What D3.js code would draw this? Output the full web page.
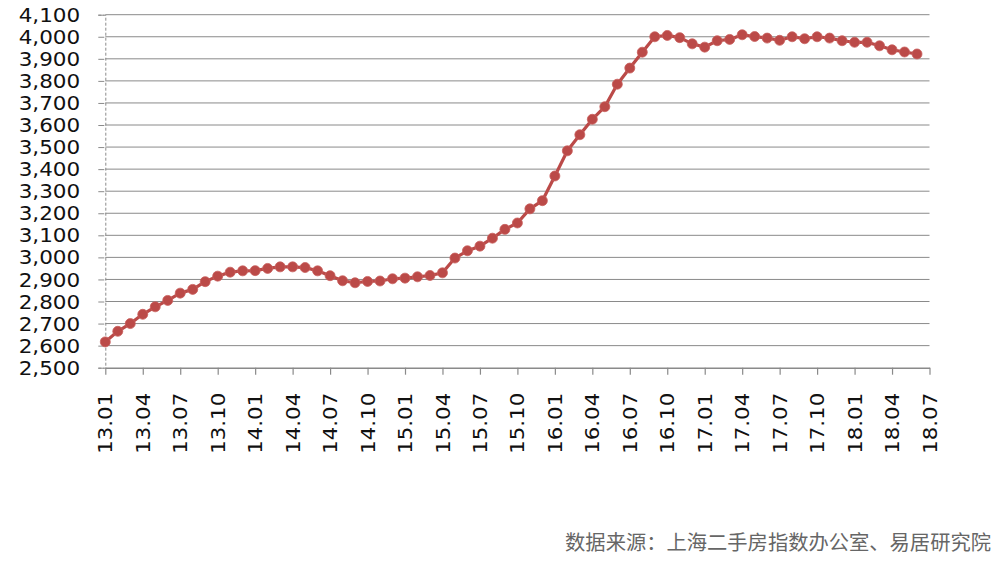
<!DOCTYPE html>
<html>
<head>
<meta charset="utf-8">
<script src="https://cdn.jsdelivr.net/npm/d3@7"></script>
<style>
    html, body { margin: 0; padding: 0; background: #fff; }
    svg { display: block; }
</style>
</head>
<body>
<svg id="chart" width="1000" height="563"></svg>
<script>
// month labels, one per category (13.01 .. 18.07)
var months = [
    '13.01', '13.02', '13.03', '13.04', '13.05', '13.06', '13.07', '13.08', '13.09', '13.10', '13.11', '13.12',
    '14.01', '14.02', '14.03', '14.04', '14.05', '14.06', '14.07', '14.08', '14.09', '14.10', '14.11', '14.12',
    '15.01', '15.02', '15.03', '15.04', '15.05', '15.06', '15.07', '15.08', '15.09', '15.10', '15.11', '15.12',
    '16.01', '16.02', '16.03', '16.04', '16.05', '16.06', '16.07', '16.08', '16.09', '16.10', '16.11', '16.12',
    '17.01', '17.02', '17.03', '17.04', '17.05', '17.06', '17.07', '17.08', '17.09', '17.10', '17.11', '17.12',
    '18.01', '18.02', '18.03', '18.04', '18.05', '18.06', '18.07'
];

// index values (13.01 .. 18.06)
var values = [
    2617, 2665, 2700, 2742, 2776, 2805, 2838, 2855, 2890, 2915, 2933, 2939,
    2940, 2950, 2957, 2957, 2954, 2939, 2917, 2894, 2885, 2891, 2893, 2903,
    2906, 2912, 2918, 2930, 2997, 3030, 3051, 3087, 3127, 3156, 3220, 3257,
    3369, 3483, 3556, 3626, 3683, 3785, 3858, 3930, 4000, 4006, 3996, 3968,
    3953, 3982, 3988, 4009, 4001, 3994, 3984, 4000, 3991, 4000, 3994, 3982,
    3975, 3975, 3959, 3941, 3931, 3922
];

// y axis ticks
var yTicks = [2500, 2600, 2700, 2800, 2900, 3000, 3100, 3200, 3300, 3400, 3500,
    3600, 3700, 3800, 3900, 4000, 4100];

// labelled months on the x axis
var xTickLabels = ['13.01', '13.04', '13.07', '13.10', '14.01', '14.04', '14.07', '14.10',
    '15.01', '15.04', '15.07', '15.10', '16.01', '16.04', '16.07', '16.10',
    '17.01', '17.04', '17.07', '17.10', '18.01', '18.04', '18.07'];

var source = '数据来源：上海二手房指数办公室、易居研究院';

var plotLeft = 105.3, plotRight = 929.5, plotTop = 14.7, plotBottom = 367.7;
var lineColor = '#bb4a48';
var gridColor = '#8a8a8a';

var svg = d3.select('#chart');

var x = d3.scaleLinear()
    .domain([0, months.length - 1])
    .range([plotLeft, plotRight]);

var y = d3.scaleLinear()
    .domain([yTicks[0], yTicks[yTicks.length - 1]])
    .range([plotBottom, plotTop]);

// horizontal gridlines
svg.append('g')
    .selectAll('line')
    .data(yTicks.slice(1))
    .enter().append('line')
    .attr('x1', plotLeft)
    .attr('x2', plotRight)
    .attr('y1', function (d) { return y(d); })
    .attr('y2', function (d) { return y(d); })
    .attr('stroke', gridColor)
    .attr('stroke-width', 1);

// y axis
var yAxis = svg.append('g')
    .attr('transform', 'translate(' + plotLeft + ',0)')
    .call(d3.axisLeft(y)
        .tickValues(yTicks)
        .tickFormat(d3.format(','))
        .tickSize(7)
        .tickPadding(0));

yAxis.select('.domain')
    .attr('stroke', gridColor)
    .attr('stroke-dasharray', '3,2')
    .attr('stroke-width', 1);
yAxis.selectAll('.tick line')
    .attr('stroke', gridColor)
    .attr('x1', -1);
yAxis.selectAll('.tick text')
    .attr('x', -21.8)
    .attr('dy', '0.35em')
    .attr('transform', 'scale(1.15,1)')
    .attr('fill', '#111')
    .style('font-family', '"DejaVu Sans", Verdana, sans-serif')
    .style('font-size', '18.7px');

// x axis
var xAxis = svg.append('g')
    .attr('transform', 'translate(0,' + plotBottom + ')')
    .call(d3.axisBottom(x)
        .tickValues(xTickLabels.map(function (m) { return months.indexOf(m); }))
        .tickFormat(function (i) { return months[i]; })
        .tickSize(7)
        .tickSizeOuter(0));

xAxis.select('.domain')
    .attr('stroke', gridColor)
    .attr('stroke-width', 1.6);
xAxis.selectAll('.tick line')
    .attr('stroke', gridColor)
    .attr('stroke-width', 1.2);
xAxis.selectAll('.tick text')
    .attr('transform', 'rotate(-90) scale(1.14,1)')
    .attr('text-anchor', 'end')
    .attr('x', -22)
    .attr('y', 0)
    .attr('dy', '0.35em')
    .attr('fill', '#111')
    .style('font-family', '"DejaVu Sans", Verdana, sans-serif')
    .style('font-size', '18.7px');

// the series
var line = d3.line()
    .x(function (d, i) { return x(i); })
    .y(function (d) { return y(d); });

svg.append('path')
    .datum(values)
    .attr('d', line)
    .attr('fill', 'none')
    .attr('stroke', lineColor)
    .attr('stroke-width', 3.2)
    .attr('stroke-linejoin', 'round');

svg.append('g')
    .selectAll('circle')
    .data(values)
    .enter().append('circle')
    .attr('cx', function (d, i) { return x(i); })
    .attr('cy', function (d) { return y(d); })
    .attr('r', 5)
    .attr('fill', lineColor)
    .attr('stroke', '#c9605d')
    .attr('stroke-width', 0.8);

// source note
svg.append('text')
    .attr('x', 991)
    .attr('y', 550)
    .attr('text-anchor', 'end')
    .attr('fill', '#666')
    .style('font-family', '"Noto Sans CJK SC", sans-serif')
    .style('font-size', '20.3px')
    .text(source);
</script>
</body>
</html>
